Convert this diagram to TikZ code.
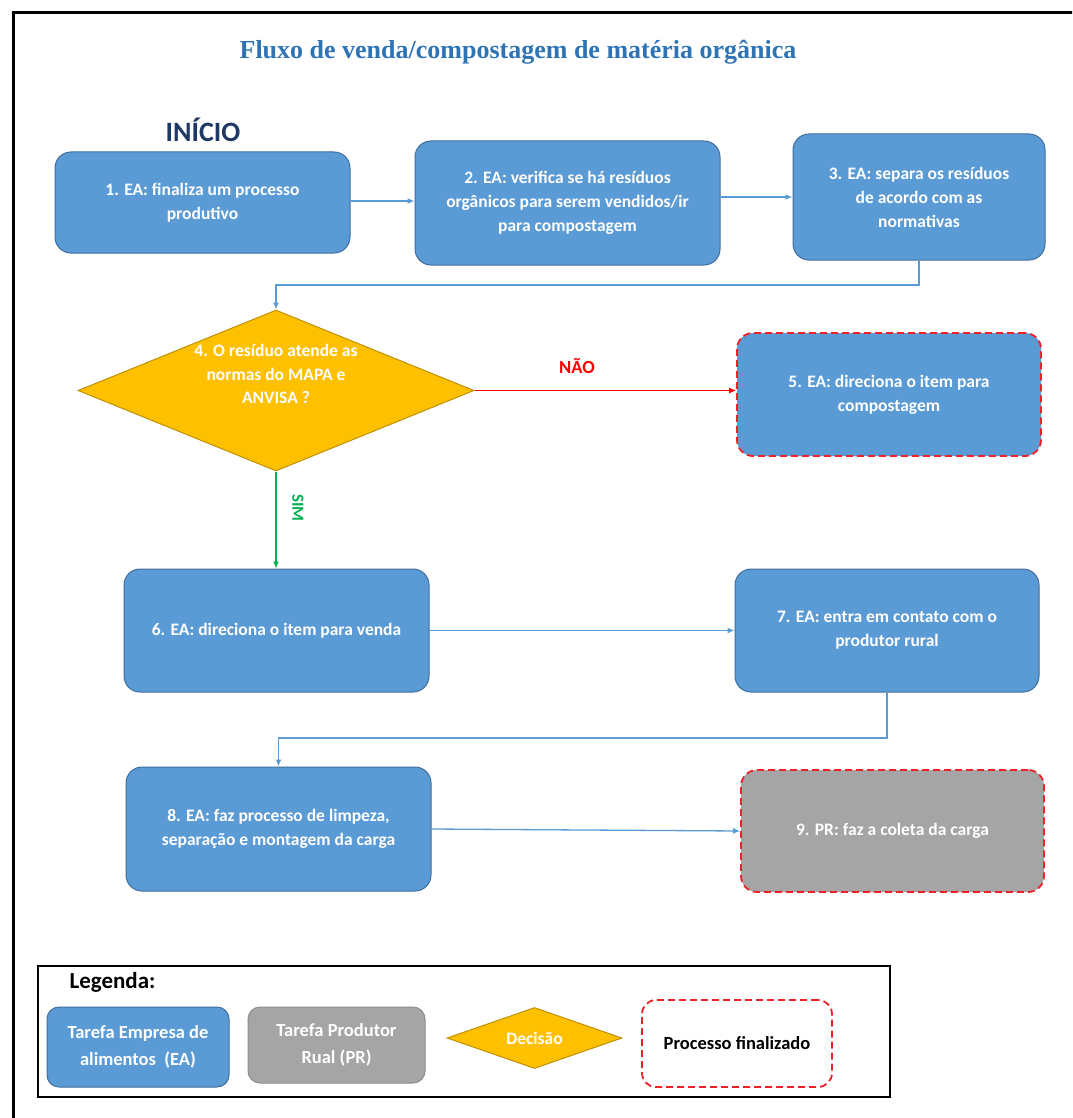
\documentclass[tikz,border=0pt]{standalone}
\usepackage{fontspec}
\setmainfont{Carlito}
\newfontfamily\titlefont{Liberation Serif}
\usetikzlibrary{shapes.geometric,arrows.meta}
\definecolor{eablue}{HTML}{5B9BD5}
\definecolor{eaborder}{HTML}{3F6E9C}
\definecolor{prgray}{HTML}{A5A5A5}
\definecolor{prborder}{HTML}{8C8C8C}
\definecolor{decfill}{HTML}{FFC000}
\definecolor{decborder}{HTML}{BF9000}
\definecolor{endred}{HTML}{EE2028}
\definecolor{linkblue}{HTML}{5B9BD5}
\definecolor{simgreen}{HTML}{00B050}
\definecolor{titleblue}{HTML}{2E74B5}
\definecolor{navy}{HTML}{1F3864}
\tikzset{
  task/.style={rectangle, rounded corners=16pt, fill=eablue, draw=eaborder, line width=1pt,
    text=white, align=center, inner sep=0pt, font=\bfseries\fontsize{17.5}{24}\selectfont},
  prtask/.style={task, fill=prgray, draw=prborder},
  finished/.style={draw=endred, line width=1.8pt, dash pattern=on 7pt off 4pt},
  decision/.style={diamond, fill=decfill, draw=decborder, line width=1pt, inner sep=0pt},
  dectext/.style={text=white, align=center, font=\bfseries\fontsize{17.5}{23.5}\selectfont},
  link/.style={draw=linkblue, line width=1.3pt, -{Latex[length=7pt,width=6pt]}},
  legtext/.style={font=\bfseries\fontsize{18.5}{27}\selectfont, align=center, text=white},
}
\begin{document}
\begin{tikzpicture}[x=1pt,y=-1pt]
\useasboundingbox (0,0) rectangle (1072,1118);
\fill[white] (0,0) rectangle (1072,1118);
\begin{scope}
\clip (0,0) rectangle (1072,1118);
\draw[line width=3pt] (13,13) rectangle (1085,1130);
\end{scope}

\node[text=titleblue, font=\titlefont\bfseries\fontsize{26}{30}\selectfont] (title) at (518,52) {Fluxo de venda/compostagem de matéria orgânica};
\node[text=navy, font=\bfseries\fontsize{28}{32}\selectfont] (inicio) at (203,130) {INÍCIO};

\node[task, minimum width=295pt, minimum height=101pt] (n1) at (202.5,202.5) {1. EA: finaliza um processo\\produtivo};
\node[task, minimum width=305pt, minimum height=124pt] (n2) at (567.5,203) {2. EA: verifica se há resíduos\\orgânicos para serem vendidos/ir\\para compostagem};
\node[task, minimum width=252pt, minimum height=126pt] (n3) at (919,197) {3. EA: separa os resíduos\\de acordo com as\\normativas};

\node[decision, aspect=2.46, minimum width=396pt, minimum height=161pt] (n4) at (276,390.5) {};
\node[dectext] (n4t) at (276,374) {4. O resíduo atende as\\normas do MAPA e\\ANVISA ?};

\node[task, finished, minimum width=304pt, minimum height=123pt] (n5) at (889,394.5) {5. EA: direciona o item para\\compostagem};

\node[task, minimum width=305pt, minimum height=123pt] (n6) at (276.5,630.5) {6. EA: direciona o item para venda};
\node[task, minimum width=304pt, minimum height=123pt] (n7) at (887,630.5) {7. EA: entra em contato com o\\produtor rural};
\node[task, minimum width=305pt, minimum height=124pt] (n8) at (278.5,829) {8. EA: faz processo de limpeza,\\separação e montagem da carga};
\node[prtask, finished, minimum width=303pt, minimum height=122pt] (n9) at (892.5,831) {9. PR: faz a coleta da carga};

% connectors
\draw[link] (n1.east |- 0,201) -- (n2.west |- 0,201);
\draw[link] (n2.east |- 0,197) -- (n3.west |- 0,197);
\coordinate (c3a) at (919,285);
\coordinate (c3b) at (276,285);
\draw[link] (n3.south) -- (c3a) -- (c3b) -- (n4.north);
\draw[draw=red, line width=1.3pt, -{Latex[length=7pt,width=6pt]}] (n4.east) -- (n5.west |- n4.east);
\node[text=red, font=\bfseries\fontsize{18.5}{22}\selectfont] (nao) at (577,366) {NÃO};
\draw[draw=simgreen, line width=1.3pt, -{Latex[length=7pt,width=6pt]}] (n4.south) -- (n6.north -| n4.south);
\node[text=simgreen, font=\bfseries\fontsize{17}{20}\selectfont, rotate=-90] (sim) at (298,508) {SIM};
\draw[link] (n6.east) -- (n7.west);
\coordinate (c7a) at (887,738);
\coordinate (c7b) at (278.5,738);
\draw[link] (n7.south) -- (c7a) -- (c7b) -- (n8.north);
\draw[link] (n8.east) -- (n9.west);

% legend
\draw[line width=2.5pt] (38,966) rectangle (890,1097);
\node[font=\bfseries\fontsize{23}{26}\selectfont, anchor=west] (leg) at (66,982) {Legenda:};
\node[task, rounded corners=12pt, minimum width=182pt, minimum height=80pt, legtext] (l1) at (138,1047) {Tarefa Empresa de\\alimentos~~(EA)};
\node[prtask, rounded corners=12pt, minimum width=177pt, minimum height=76pt, legtext] (l2) at (336.5,1045) {Tarefa Produtor\\Rual (PR)};
\node[decision, aspect=2.87, minimum width=175pt, minimum height=61pt, legtext, font=\bfseries\fontsize{17.5}{22}\selectfont] (l3) at (534.5,1038) {Decisão};
\node[rectangle, rounded corners=14pt, fill=white, finished, minimum width=190pt, minimum height=87pt, font=\bfseries\fontsize{18.5}{22}\selectfont] (l4) at (737,1043.5) {Processo finalizado};
\end{tikzpicture}
\end{document}
